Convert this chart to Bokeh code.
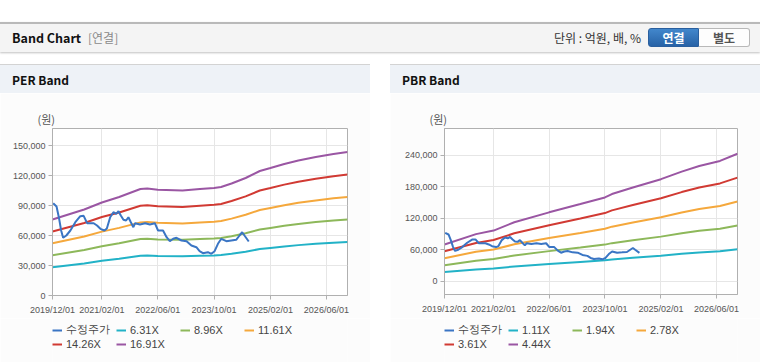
import pandas as pd
from bokeh.plotting import figure
from bokeh.models import (Range1d, FixedTicker, DatetimeTickFormatter, NumeralTickFormatter,
                          Legend, LegendItem, Div, Spacer)
from bokeh.layouts import column, row
from bokeh.embed import file_html
from bokeh.resources import INLINE

# ---------------- data ----------------
price_dates = ["2019-12-07", "2020-01-05", "2020-01-25", "2020-02-14", "2020-03-02", "2020-03-30",
               "2020-05-04", "2020-06-16", "2020-07-29", "2020-08-27", "2020-09-26", "2020-10-24",
               "2020-11-22", "2020-12-21", "2021-01-19", "2021-02-23", "2021-03-16", "2021-04-14",
               "2021-05-12", "2021-06-05", "2021-06-25", "2021-07-15", "2021-08-07", "2021-08-30",
               "2021-09-19", "2021-10-10", "2021-11-01", "2021-11-16", "2021-12-28", "2022-02-11",
               "2022-03-24", "2022-05-06", "2022-06-03", "2022-07-16", "2022-08-16", "2022-09-13",
               "2022-10-12", "2022-11-10", "2022-12-23", "2023-02-05", "2023-03-19", "2023-05-01",
               "2023-05-29", "2023-06-27", "2023-08-09", "2023-09-08", "2023-10-06", "2023-11-04",
               "2023-12-03", "2024-01-16", "2024-02-28", "2024-04-10", "2024-05-09", "2024-06-01",
               "2024-06-21", "2024-07-28"]
price = [92300, 89000, 78300, 65000, 57700, 60000,
         65000, 73300, 79300, 79700, 72300, 72300,
         72300, 70000, 66700, 65000, 67000, 78300,
         83300, 81700, 84300, 80000, 75700, 75000,
         78300, 73300, 68300, 72300, 71000, 72300,
         71000, 72300, 65000, 65000, 58300, 54300,
         56700, 57700, 55000, 54300, 50000, 48300,
         44300, 42300, 43300, 41700, 44300, 51700,
         56700, 54300, 55000, 55700, 60000, 63300,
         60000, 54000]

# earnings per share basis of the PER bands (won)
eps_dates = ["2019-12-01", "2020-09-01", "2021-02-01", "2021-07-01", "2022-01-01", "2022-03-01",
             "2022-06-01", "2023-01-01", "2023-06-01", "2023-10-01", "2023-12-01", "2024-03-01",
             "2024-07-01", "2024-11-01", "2025-02-01", "2025-06-01", "2025-10-01", "2026-03-01",
             "2026-08-01", "2026-12-01"]
eps = [4494, 5086, 5500, 5825, 6298, 6328,
       6257, 6209, 6298, 6357, 6416, 6623,
       6949, 7362, 7540, 7776, 7983, 8190,
       8368, 8486]
per_multiples = [6.31, 8.96, 11.61, 14.26, 16.91]

# book value per share basis of the PBR bands (won)
bps_dates = ["2019-12-01", "2020-09-01", "2021-02-01", "2021-08-01", "2022-06-01", "2023-03-01",
             "2023-10-01", "2023-12-01", "2024-06-01", "2025-02-01", "2025-08-01", "2026-01-01",
             "2026-07-01", "2026-12-01"]
bps = [15770, 20200, 21730, 25290, 29550, 33110,
       35950, 37390, 40200, 43780, 47030, 49460,
       51600, 54680]
pbr_multiples = [1.11, 1.94, 2.78, 3.61, 4.44]

price_label = "수정주가"
x_tick_dates = ["2019-12-01", "2021-02-01", "2022-06-01", "2023-10-01", "2025-02-01", "2026-06-01"]
x_start, x_end = "2019-12-01", "2026-12-01"
per_y_ticks = [0, 30000, 60000, 90000, 120000, 150000]
pbr_y_ticks = [0, 60000, 120000, 180000, 240000]

colors = ["#3a75c4", "#22b2c7", "#8db85a", "#f5a83c", "#d13a33", "#9a56a3"]

FONT = "Liberation Sans"
KFONT = "'Noto Sans CJK KR', 'Noto Sans', sans-serif"
PANEL_BG = "#fcfcfc"


def ms(d):
    return pd.Timestamp(d).value // 10**6


def add_series(p, base_dates, base_vals, multiples):
    """Draw the band lines and the price line; return legend items in legend order."""
    bx = pd.to_datetime(base_dates)
    bands = []
    for i, m in enumerate(multiples):
        r = p.line(bx, [v * m for v in base_vals], line_color=colors[i + 1], line_width=2)
        bands.append(LegendItem(label=f"{m:.2f}X", renderers=[r]))
    rp = p.line(pd.to_datetime(price_dates), price, line_color=colors[0], line_width=2)
    return [LegendItem(label=price_label, renderers=[rp])] + bands


def make_chart(base_dates, base_vals, multiples, y_rng, y_ticks, bl, br, bt, bb):
    p = figure(width=370, height=225, x_axis_type="datetime",
               x_range=Range1d(ms(x_start), ms(x_end)), y_range=Range1d(*y_rng),
               output_backend="svg", toolbar_location=None,
               min_border_left=bl, min_border_right=br, min_border_top=bt, min_border_bottom=bb)
    p.background_fill_color = "#ffffff"
    p.border_fill_color = PANEL_BG
    p.outline_line_color = "#b0b0b0"

    p.title.text = "(원)"
    p.title.align = "left"
    p.title.offset = -15
    p.title.standoff = 3
    p.title.text_font = "Noto Sans CJK KR"
    p.title.text_font_size = "11px"
    p.title.text_font_style = "normal"
    p.title.text_color = "#555555"

    p.xaxis.ticker = FixedTicker(ticks=[ms(d) for d in x_tick_dates])
    fmt = "%Y/%m/%d"
    p.xaxis.formatter = DatetimeTickFormatter(days=fmt, months=fmt, years=fmt, hours=fmt,
                                              minutes=fmt, seconds=fmt, milliseconds=fmt,
                                              microseconds=fmt, hourmin=fmt, minsec=fmt)
    p.yaxis.ticker = FixedTicker(ticks=y_ticks)
    p.yaxis.formatter = NumeralTickFormatter(format="0,0")
    for ax in (p.xaxis, p.yaxis):
        ax.axis_line_color = "#b0b0b0"
        ax.major_tick_line_color = "#b0b0b0"
        ax.major_tick_out = 4
        ax.major_tick_in = 0
        ax.minor_tick_line_color = None
        ax.major_label_text_font = FONT
        ax.major_label_text_font_size = "9px"
        ax.major_label_text_color = "#555555"
    p.xaxis.major_label_standoff = 5
    p.yaxis.major_label_standoff = 3
    p.grid.grid_line_color = "#e6e6e6"

    add_series(p, base_dates, base_vals, multiples)
    return p


def make_legend(base_dates, base_vals, multiples, vx):
    # legend strip under the chart; the series are keyed here with the same styles
    # (their values lie outside this strip's y range, so only the legend is seen)
    lg = figure(width=370, height=44, x_axis_type="datetime",
                x_range=Range1d(ms(x_start), ms(x_end)), y_range=Range1d(-2, -1),
                output_backend="svg", toolbar_location=None,
                x_axis_location=None, y_axis_location=None,
                min_border_left=0, min_border_right=0, min_border_top=0, min_border_bottom=0)
    lg.background_fill_color = PANEL_BG
    lg.border_fill_color = PANEL_BG
    lg.outline_line_color = None
    lg.grid.visible = False
    items = add_series(lg, base_dates, base_vals, multiples)
    legend = Legend(items=items, location=(vx, 11), orientation="horizontal", ncols=4,
                    glyph_width=10, glyph_height=14, label_width=50, label_height=14,
                    label_standoff=4, spacing=0, padding=0, margin=0,
                    background_fill_alpha=0, border_line_alpha=0,
                    label_text_font=FONT, label_text_font_size="11px",
                    label_text_color="#444444")
    lg.add_layout(legend)
    return lg


p_per = make_chart(eps_dates, eps, per_multiples, (0, 167000), per_y_ticks, 52, 23, 35, 23)
p_pbr = make_chart(bps_dates, bps, pbr_multiples, (-25300, 290900), pbr_y_ticks, 54, 23, 35, 24)
lg_per = make_legend(eps_dates, eps, per_multiples, 0)
lg_pbr = make_legend(bps_dates, bps, pbr_multiples, 0)

header_html = f"""<div style="position:relative;width:760px;height:64px;font-family:{KFONT};">
  <div style="position:absolute;left:0;top:22px;width:760px;height:30px;background:#f4f4f4;
       border-top:2px solid #b9b9b9;box-shadow:0 1px 2px rgba(0,0,0,0.25);box-sizing:border-box;"></div>
  <div style="position:absolute;left:12px;top:23px;height:30px;line-height:30px;font-size:12.5px;
       font-weight:bold;color:#111;">Band Chart</div>
  <div style="position:absolute;left:88px;top:23px;height:30px;line-height:30px;font-size:12px;
       color:#8a8a8a;">[연결]</div>
  <div style="position:absolute;right:119px;top:23px;height:30px;line-height:30px;font-size:12px;
       color:#333;">단위 : 억원, 배, %</div>
  <div style="position:absolute;left:648px;top:28px;width:51px;height:19px;line-height:17px;
       text-align:center;font-size:12px;font-weight:bold;color:#fff;box-sizing:border-box;
       background:linear-gradient(#4287cc,#2762a6);border:1px solid #2a5f9e;
       border-radius:3px 0 0 3px;">연결</div>
  <div style="position:absolute;left:699px;top:28px;width:51px;height:19px;line-height:17px;
       text-align:center;font-size:12px;font-weight:bold;color:#555;box-sizing:border-box;
       background:#fdfdfd;border:1px solid #b8b8b8;border-left:none;
       border-radius:0 3px 3px 0;">별도</div>
</div>"""


def panel_head(title):
    return Div(width=370, height=29, margin=0, text=f"""<div style="position:relative;width:370px;height:29px;background:#eef2f7;border-top:1px solid #d3d3d3;
     box-sizing:border-box;font-family:{KFONT};">
  <div style="position:absolute;left:12px;top:0;height:28px;line-height:30px;font-size:12px;
       font-weight:bold;color:#111;">{title}</div>
</div>""")


def panel_foot():
    return Div(width=370, height=2, margin=0, text=f"""<div style="width:370px;height:2px;background:{PANEL_BG};border-top:1px solid #d6d6d6;box-sizing:border-box;"></div>""")


header = Div(width=760, height=64, margin=0, text=header_html)
left = column(panel_head("PER Band"), p_per, lg_per, panel_foot())
right = column(panel_head("PBR Band"), p_pbr, lg_pbr, panel_foot())
root = column(header, row(left, Spacer(width=20, height=300, margin=0), right))

open("out.html", "w").write(file_html(root, INLINE))
